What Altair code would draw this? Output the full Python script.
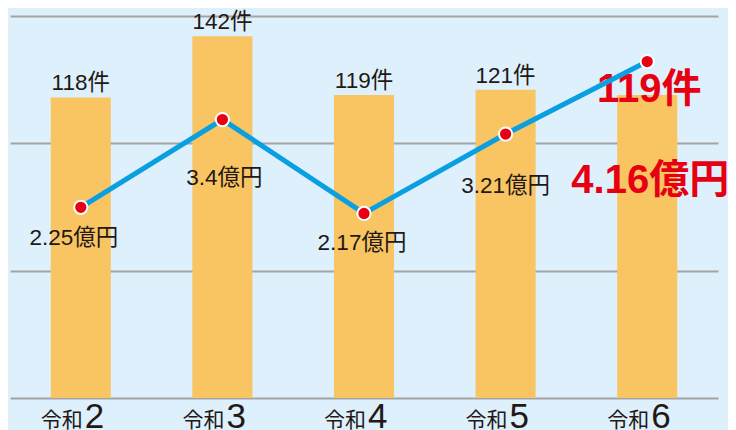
import altair as alt
import pandas as pd

# ---- data ----
era_prefix = "令和"
years = ["2", "3", "4", "5", "6"]
counts = [118, 142, 119, 121, 119]            # 件
amounts = [2.25, 3.4, 2.17, 3.21, 4.16]       # 億円
count_labels = ["118件", "142件", "119件", "121件", "119件"]
amount_labels = ["2.25億円", "3.4億円", "2.17億円", "3.21億円", "4.16億円"]

df = pd.DataFrame({
    "year": years,
    "count": counts,
    "amount": amounts,
    "clabel": count_labels,
    "alabel": amount_labels,
    "prefix": [era_prefix] * len(years),
})

# ---- style ----
BG = "#DDF0FB"
BAR = "#F9C462"
LINE = "#0A9FE0"
DOT = "#E60012"
TXT = "#231815"
FONT = "Liberation Sans, Noto Sans CJK JP"
W, H = 708, 382
LBL = 22.5
amount_dy = [38, 65, 37, 59]
amount_dx = [-7, 2, -2, 0]

xs = alt.X("year:N", sort=years,
           scale=alt.Scale(paddingInner=0.576, paddingOuter=0.288, round=False), axis=None)
y_count = alt.Y("count:Q", scale=alt.Scale(domain=[0, 150], nice=False),
                axis=alt.Axis(values=[0, 50, 100, 150], grid=True, labels=False,
                              ticks=False, domain=False, title=None,
                              gridColor="#A3A3A3", gridWidth=2))
y_amt = alt.Y("amount:Q", scale=alt.Scale(domain=[-0.249, 4.757], nice=False, zero=False),
              axis=None)

base = alt.Chart(df)

bars = base.mark_bar(color=BAR).encode(x=xs, y=y_count)

bar_lbl = base.transform_filter(alt.datum.year != "6").mark_text(
    dy=-7, baseline="alphabetic", fontSize=LBL, font=FONT, color=TXT
).encode(x=xs, y=y_count, text="clabel:N")

bar_hi = base.transform_filter(alt.datum.year == "6").mark_text(
    dy=7, dx=2, baseline="alphabetic", fontSize=40, fontWeight="bold", font=FONT, color=DOT
).encode(x=xs, y=y_count, text="clabel:N")

count_layer = alt.layer(bars, bar_lbl, bar_hi)

line = base.mark_line(color=LINE, strokeWidth=5).encode(x=xs, y=y_amt)
pts = base.mark_point(filled=True, fill=DOT, stroke="white", strokeWidth=2,
                      size=175, opacity=1).encode(x=xs, y=y_amt)

amt_lbls = []
for i, yr in enumerate(years[:4]):
    amt_lbls.append(
        base.transform_filter(alt.datum.year == yr).mark_text(
            dy=amount_dy[i], dx=amount_dx[i], baseline="alphabetic", fontSize=LBL,
            font=FONT, color=TXT
        ).encode(x=xs, y=y_amt, text="alabel:N")
    )
amt_hi = base.transform_filter(alt.datum.year == "6").mark_text(
    dy=131, dx=3, baseline="alphabetic", fontSize=40, fontWeight="bold",
    font=FONT, color=DOT
).encode(x=xs, y=y_amt, text="alabel:N")

x_pre = base.mark_text(align="right", dx=2, baseline="alphabetic", fontSize=21,
                       font="Noto Sans CJK JP", color=TXT).encode(
    x=xs, y=alt.value(H + 29), text="prefix:N")
x_num = base.mark_text(align="left", dx=4, baseline="alphabetic", fontSize=35,
                       font="Liberation Sans", color=TXT).encode(
    x=xs, y=alt.value(H + 30), text="year:N")

amt_layer = alt.layer(line, pts, *amt_lbls, amt_hi, x_pre, x_num)

chart = alt.layer(count_layer, amt_layer).resolve_scale(y="independent").properties(
    width=W, height=H,
    autosize=alt.AutoSizeParams(type="none"),
    padding={"left": 2, "top": 8, "right": 10, "bottom": 32},
    background=BG,
).configure_view(stroke=None)

chart.save("out.html", embed_options={"renderer": "svg", "actions": False})
